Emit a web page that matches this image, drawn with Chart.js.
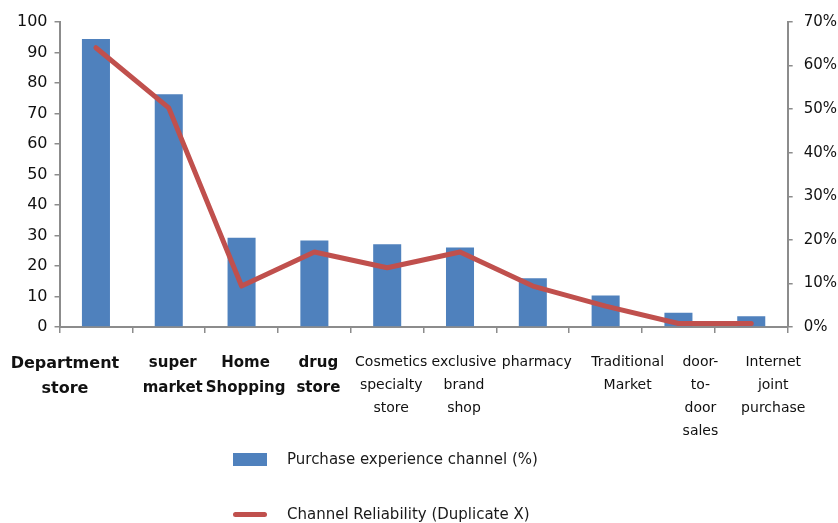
<!DOCTYPE html>
<html>
<head>
<meta charset="utf-8">
<title>Purchase channels</title>
<script src="https://cdn.jsdelivr.net/npm/chart.js@4.4.1/dist/chart.umd.min.js"></script>
<style>
    html, body { margin: 0; padding: 0; background: #fff; }
    #wrap { position: relative; width: 838px; height: 523px; }
    #legend { position: absolute; left: 233px; top: 0; font: 15px 'DejaVu Sans', sans-serif; color: #1a1a1a; }
    #legend .row { position: absolute; left: 0; height: 26px; display: flex; align-items: center; white-space: nowrap; }
    #legend .row:nth-child(1) { top: 446px; }
    #legend .row:nth-child(2) { top: 501px; }
    #legend .mark { width: 34px; margin-right: 20px; }
</style>
</head>
<body>
<div id="wrap">
    <canvas id="chart_channels" width="838" height="523"></canvas>
    <div id="legend"></div>
</div>
<script>
'use strict';

const categories = [
    ['Department', 'store'],
    ['super', 'market'],
    ['Home', 'Shopping'],
    ['drug', 'store'],
    ['Cosmetics', 'specialty', 'store'],
    ['exclusive', 'brand', 'shop'],
    ['pharmacy'],
    ['Traditional', 'Market'],
    ['door-', 'to-', 'door', 'sales'],
    ['Internet', 'joint', 'purchase']
];
const purchaseExperience = [94.4, 76.3, 29.3, 28.4, 27.1, 26.1, 16.0, 10.3, 4.7, 3.5];
const channelReliability = [64.1, 50.3, 9.4, 17.2, 13.6, 17.2, 9.4, 4.8, 0.8, 0.8];
const seriesNames = ['Purchase experience channel (%)', 'Channel Reliability (Duplicate X)'];
const leftAxis = {min: 0, max: 100, step: 10};
const rightAxis = {min: 0, max: 70, step: 10};

const COLORS = {
    blue: '#4F81BD',
    red: '#C0504D',
    axis: '#8c8c8c',
    text: '#111111'
};
const FONT = "'DejaVu Sans', Verdana, sans-serif";

// category labels in the original are not evenly spaced, so they are split
// over three category axes that share the same ticks but shift differently
const LABEL_GROUPS = [
    {id: 'x', show: [1, 2, 3, 4, 5, 6], shift: 4},
    {id: 'xFirst', show: [0], shift: -31},
    {id: 'xLast', show: [7, 8, 9], shift: 22}
];

// the first four labels are set bigger and heavier in the original
function xTickFont(ctx) {
    if (ctx.index === 0) {
        return {family: FONT, size: 16, weight: 'bold', lineHeight: '25px'};
    }
    if (ctx.index < 4) {
        return {family: FONT, size: 15, weight: 'bold', lineHeight: '25px'};
    }
    return {family: FONT, size: 14, lineHeight: '23px'};
}

function axisBase(position, tickLength, padding, fontSize) {
    return {
        position: position,
        grid: {drawOnChartArea: false, drawTicks: true, tickLength: tickLength, color: COLORS.axis, lineWidth: 1.5},
        border: {display: true, color: COLORS.axis, width: 2},
        ticks: {color: COLORS.text, padding: padding, font: {family: FONT, size: fontSize || 15}}
    };
}

function labelAxis({show, shift}, main) {
    let axis = axisBase(main ? 'bottom' : {y: 0}, 6, main ? 18 : 24);
    axis.type = 'category';
    axis.axis = 'x';
    axis.offset = true;
    axis.ticks.autoSkip = false;
    axis.ticks.maxRotation = 0;
    axis.ticks.minRotation = 0;
    axis.ticks.labelOffset = shift;
    axis.ticks.font = xTickFont;
    axis.ticks.callback = (value, index) => show.includes(index) ? categories[index] : '';
    if (!main) {
        axis.grid.display = false;
        axis.grid.drawTicks = false;
        axis.border.display = false;
    }
    return axis;
}

let yLeft = axisBase('left', 5, 7, 16);
yLeft.min = leftAxis.min;
yLeft.max = leftAxis.max;
yLeft.ticks.stepSize = leftAxis.step;

let yRight = axisBase('right', 5, 11, 15);
yRight.min = rightAxis.min;
yRight.max = rightAxis.max;
yRight.ticks.stepSize = rightAxis.step;
yRight.ticks.callback = value => value + '%';

let scales = {y: yLeft, y1: yRight};
LABEL_GROUPS.forEach((group, i) => {
    scales[group.id] = labelAxis(group, i === 0);
});

const htmlLegend = {
    id: 'htmlLegend',
    afterUpdate(chart) {
        let box = document.getElementById('legend');
        box.innerHTML = '';
        chart.data.datasets.forEach(ds => {
            let row = document.createElement('div'),
                mark = document.createElement('span'),
                text = document.createElement('span');
            row.className = 'row';
            mark.className = 'mark';
            if (ds.type === 'line') {
                mark.style.height = ds.borderWidth + 'px';
                mark.style.borderRadius = '3px';
                mark.style.background = ds.borderColor;
            } else {
                mark.style.height = '13px';
                mark.style.background = ds.backgroundColor;
            }
            text.textContent = ds.label;
            row.appendChild(mark);
            row.appendChild(text);
            box.appendChild(row);
        });
    }
};

let config = {
    type: 'bar',
    data: {
        labels: categories,
        datasets: [{
            label: seriesNames[0],
            data: purchaseExperience,
            backgroundColor: COLORS.blue,
            borderWidth: 0,
            xAxisID: 'x',
            yAxisID: 'y',
            barPercentage: 0.385,
            categoryPercentage: 1,
            order: 1
        }, {
            type: 'line',
            label: seriesNames[1],
            data: channelReliability,
            borderColor: COLORS.red,
            backgroundColor: COLORS.red,
            borderWidth: 5,
            borderJoinStyle: 'round',
            borderCapStyle: 'round',
            pointRadius: 0,
            tension: 0,
            fill: false,
            xAxisID: 'x',
            yAxisID: 'y1',
            order: 0
        }]
    },
    options: {
        responsive: false,
        animation: false,
        layout: {padding: {left: 10, right: -10, top: 22, bottom: 85}},
        plugins: {
            legend: {display: false},
            tooltip: {enabled: false}
        },
        scales: scales
    },
    plugins: [htmlLegend]
};

let ctx = document.getElementById('chart_channels').getContext('2d');
window.ChartChannels = new Chart(ctx, config);
</script>
</body>
</html>
